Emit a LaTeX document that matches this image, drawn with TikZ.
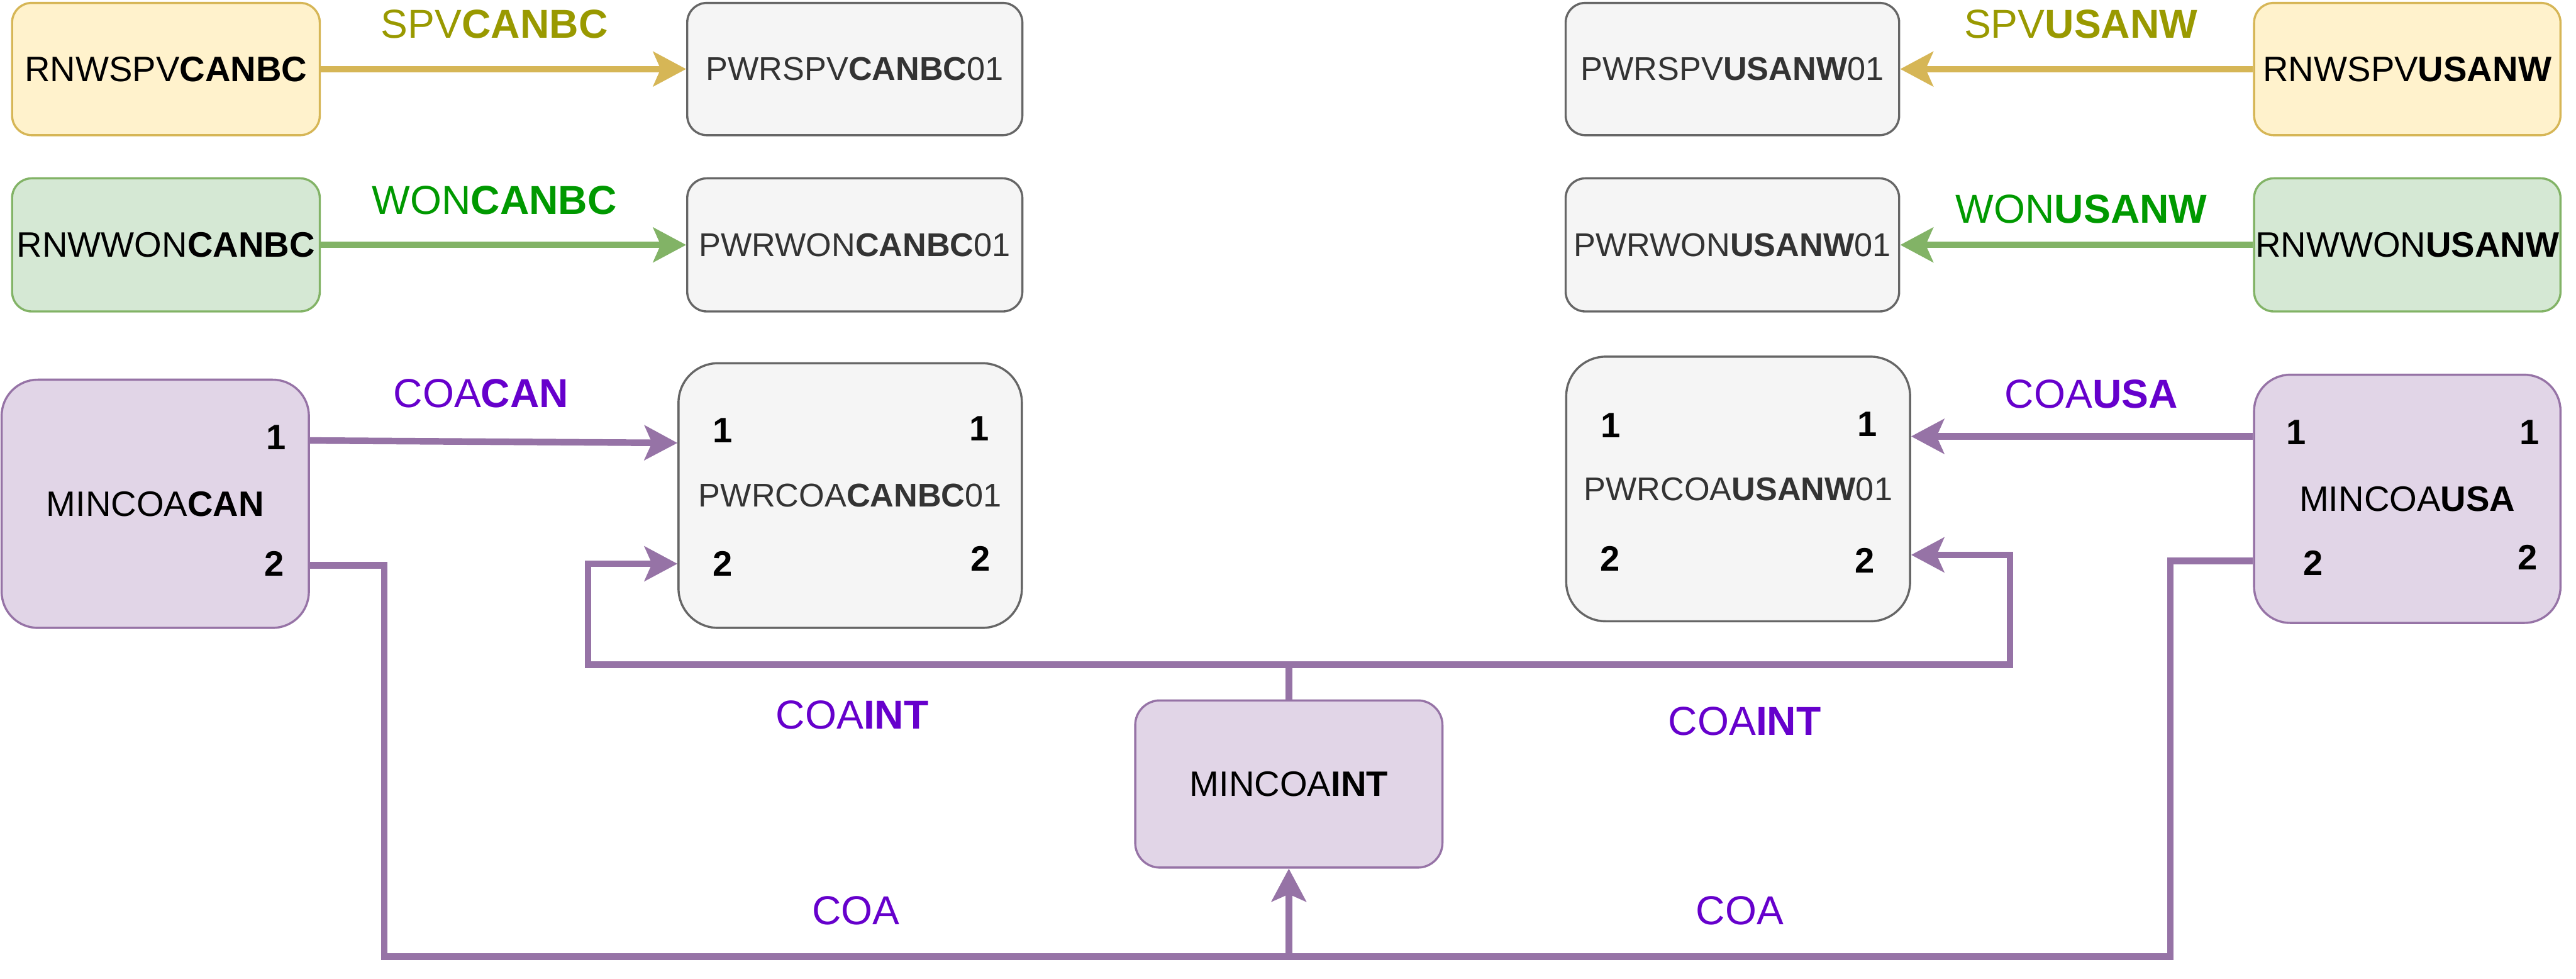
\documentclass[tikz,border=0pt]{standalone}
\usepackage{fontspec}
\setmainfont{Liberation Sans}
\usetikzlibrary{arrows.meta}
\definecolor{yfill}{HTML}{FFF2CC}\definecolor{ydraw}{HTML}{D6B656}
\definecolor{gfill}{HTML}{D5E8D4}\definecolor{gdraw}{HTML}{82B366}
\definecolor{pfill}{HTML}{E1D5E7}\definecolor{pdraw}{HTML}{9673A6}
\definecolor{nfill}{HTML}{F5F5F5}\definecolor{ndraw}{HTML}{666666}
\definecolor{ntext}{HTML}{333333}
\definecolor{spvc}{HTML}{999900}\definecolor{wonc}{HTML}{009900}\definecolor{coac}{HTML}{6600CC}
\begin{document}
\begin{tikzpicture}[x=1pt,y=-1pt,
  basebox/.style={draw, line width=1.3pt, inner sep=0pt, align=center},
  ybox/.style={basebox, fill=yfill, draw=ydraw, rounded corners=12pt, font=\fontsize{21.5}{25}\selectfont},
  gbox/.style={basebox, fill=gfill, draw=gdraw, rounded corners=12pt, font=\fontsize{21.5}{25}\selectfont},
  nbox/.style={basebox, fill=nfill, draw=ndraw, text=ntext, rounded corners=12pt, font=\fontsize{20}{24}\selectfont},
  nbigbox/.style={basebox, fill=nfill, draw=ndraw, text=ntext, rounded corners=24pt, font=\fontsize{20}{24}\selectfont},
  pbox/.style={basebox, fill=pfill, draw=pdraw, rounded corners=22pt, font=\fontsize{21.5}{25}\selectfont},
  lbl/.style={inner sep=0pt, font=\fontsize{24.6}{28}\selectfont},
  num/.style={inner sep=0pt, font=\fontsize{21.5}{25}\selectfont\bfseries},
  tip/.style={-{Stealth[length=20pt,width=21pt,inset=4.5pt]}},
  spvarrow/.style={tip, draw=ydraw, line width=4pt},
  wonarrow/.style={tip, draw=gdraw, line width=4pt},
  coaline/.style={draw=pdraw, line width=4pt},
  coaarrow/.style={coaline, tip}]
\useasboundingbox (0,0) rectangle (1568,595.4);

% top rows
\node[ybox, minimum width=187.3pt, minimum height=80.5pt] (rspvcan) at (101,42) {RNWSPV\textbf{CANBC}};
\node[gbox, minimum width=187.3pt, minimum height=81pt] (rwoncan) at (101,149) {RNWWON\textbf{CANBC}};
\node[nbox, minimum width=204pt, minimum height=80.5pt] (pspvcan) at (520.3,42) {PWRSPV\textbf{CANBC}01};
\node[nbox, minimum width=204pt, minimum height=81pt] (pwoncan) at (520.3,149) {PWRWON\textbf{CANBC}01};
\node[nbox, minimum width=203pt, minimum height=80.5pt] (pspvusa) at (1054.5,42) {PWRSPV\textbf{USANW}01};
\node[nbox, minimum width=203pt, minimum height=81pt] (pwonusa) at (1054.5,149) {PWRWON\textbf{USANW}01};
\node[ybox, minimum width=186.5pt, minimum height=80.5pt] (rspvusa) at (1465.3,42) {RNWSPV\textbf{USANW}};
\node[gbox, minimum width=186.5pt, minimum height=81pt] (rwonusa) at (1465.3,149) {RNWWON\textbf{USANW}};

\draw[spvarrow] (rspvcan) -- (pspvcan);
\draw[wonarrow] (rwoncan) -- (pwoncan);
\draw[spvarrow] (rspvusa) -- (pspvusa);
\draw[wonarrow] (rwonusa) -- (pwonusa);

\node[lbl, text=spvc] (lspvcan) at (301,14.8) {SPV\textbf{CANBC}};
\node[lbl, text=wonc] (lwoncan) at (301,122) {WON\textbf{CANBC}};
\node[lbl, text=spvc] (lspvusa) at (1266.6,14.8) {SPV\textbf{USANW}};
\node[lbl, text=wonc] (lwonusa) at (1267,127.4) {WON\textbf{USANW}};

% coal boxes
\node[pbox, minimum width=187pt, minimum height=151pt] (mincan) at (94.5,306.5) {MINCOA\textbf{CAN}};
\node[nbigbox, minimum width=209pt, minimum height=161pt] (pcan) at (517.5,301.5) {PWRCOA\textbf{CANBC}01};
\node[nbigbox, minimum width=209.3pt, minimum height=161pt] (pusa) at (1058,297.5) {PWRCOA\textbf{USANW}01};
\node[pbox, minimum width=186.5pt, minimum height=151pt] (minusa) at (1465.3,303.5) {MINCOA\textbf{USA}};
\node[pbox, rounded corners=15pt, minimum width=187pt, minimum height=101.7pt] (mint) at (784.5,477) {MINCOA\textbf{INT}};

% port numbers
\node[num] (mc1) at (168,266) {1};
\node[num] (mc2) at (167,343) {2};
\node[num] (pc1a) at (440,262) {1};
\node[num] (pc1b) at (596,260.7) {1};
\node[num] (pc2a) at (440,343) {2};
\node[num] (pc2b) at (597,340) {2};
\node[num] (pu1a) at (980.6,259) {1};
\node[num] (pu1b) at (1136.5,258) {1};
\node[num] (pu2a) at (980,339.8) {2};
\node[num] (pu2b) at (1135,341) {2};
\node[num] (mu1a) at (1397.6,263) {1};
\node[num] (mu1b) at (1539.7,263) {1};
\node[num] (mu2a) at (1408,342.6) {2};
\node[num] (mu2b) at (1538.7,339) {2};

% coal connectors
\draw[coaarrow] (mincan.east |- 0,268) -- (pcan.west |- 0,269.5);
\draw[coaarrow] (minusa.west |- 0,265.5) -- (pusa.east |- 0,265.5);
\draw[coaarrow] (mint.north) |- (358,404.5) |- (pcan.west |- 0,343);
\draw[coaarrow] (mint.north) |- (1223.5,404.5) |- (pusa.east |- 0,337.6);
\draw[coaline] (mincan.east |- 0,344) -| (234,582) -| (1321,341.3) -- (minusa.west |- 0,341.3);
\draw[coaarrow] (mint.south |- 0,582) -- (mint.south);

\node[lbl, text=coac] (lcoacan) at (292.8,239.4) {COA\textbf{CAN}};
\node[lbl, text=coac] (lcoausa) at (1273,239.6) {COA\textbf{USA}};
\node[lbl, text=coac] (lcoaint1) at (518.8,435) {COA\textbf{INT}};
\node[lbl, text=coac] (lcoaint2) at (1062,439) {COA\textbf{INT}};
\node[lbl, text=coac] (lcoa1) at (521,554) {COA};
\node[lbl, text=coac] (lcoa2) at (1059,554) {COA};
\end{tikzpicture}
\end{document}
